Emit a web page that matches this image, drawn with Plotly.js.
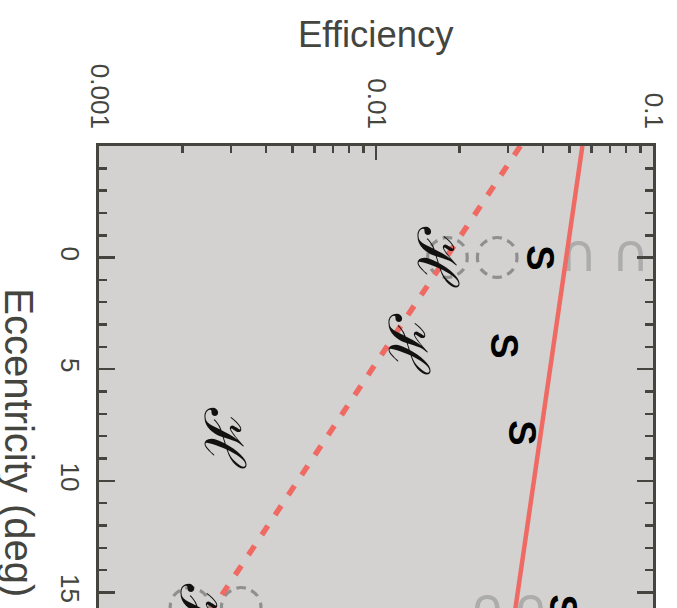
<!DOCTYPE html>
<html><head><meta charset="utf-8">
<script src="https://cdn.plot.ly/plotly-3.0.1.min.js"></script>
<style>html,body{margin:0;padding:0;overflow:hidden;background:#fff;width:677px;height:608px}</style>
</head><body><div id="chart" style="width:677px;height:745px"></div>
<script>
// ---- data ----
const fitEcc = [-5, 20];
const solidEff = [0.0556, 0.0284];
const dashedEff = [0.0332, 0.00152];
const scriptEcc = [0, 3.9, 8.1, 16];
const scriptEff = [0.01665, 0.01308, 0.00285, 0.00232];
const sEcc = [0, 3.95, 7.85, 15.65];
const sEff = [0.0392, 0.0291, 0.0338, 0.0475];
const ringEcc = [0, 0, 15.7, 15.7];
const ringEff = [0.0181, 0.0274, 0.00213, 0.00326];
const arcEcc = [0, 0, 15.9, 15.9];
const arcEff = [0.0538, 0.0829, 0.0252, 0.0361];
const effTicks = [0.001, 0.01, 0.1];
const effTickText = ['0.001', '0.01', '0.1'];
const effMinor = [0.002,0.003,0.004,0.005,0.006,0.007,0.008,0.009,0.02,0.03,0.04,0.05,0.06,0.07,0.08,0.09];
const eccTicks = [-5, 0, 5, 10, 15, 20];
const eccTickText = ['', '0', '5', '10', '15', '20'];
const eccMinor = [-4,-3,-2,-1,1,2,3,4,6,7,8,9,11,12,13,14,16,17,18,19];

const axisCol = '#45453f';
const red = '#f06a64';
const FONT = 'Liberation Sans, Arial, sans-serif';

const traces = [
  {x: ringEff, y: ringEcc, mode: 'text', text: ringEff.map(() => '\u25CC'),
   textfont: {family: 'DejaVu Sans', size: 56, color: '#8f8f8f'}, textposition: 'middle center', hoverinfo: 'skip'},
  {x: arcEff, y: arcEcc, mode: 'text', text: arcEff.map(() => '\u2229'),
   textfont: {family: 'DejaVu Sans', size: 52, color: '#acacac'}, textposition: 'middle center', hoverinfo: 'skip'},
  {x: solidEff, y: fitEcc, mode: 'lines', line: {color: red, width: 4.5}, hoverinfo: 'skip'},
  {x: dashedEff, y: fitEcc, mode: 'lines', line: {color: red, width: 5.5, dash: '11px,13px'}, hoverinfo: 'skip'}
];

const annotations = [];
scriptEff.forEach((v, i) => annotations.push({
  x: Math.log10(v), y: scriptEcc[i], xref: 'x', yref: 'y', text: '\u210B', showarrow: false,
  textangle: 90, font: {family: 'DejaVu Serif', size: 56, color: '#111'}, xanchor: 'center', yanchor: 'middle'
}));
sEff.forEach((v, i) => annotations.push({
  x: Math.log10(v), y: sEcc[i], xref: 'x', yref: 'y', text: '<b>S</b>', showarrow: false,
  textangle: 90, font: {family: FONT, size: 38, color: '#000'}, xanchor: 'center', yanchor: 'middle'
}));
annotations.push({
  x: 0.5, y: 1, xref: 'paper', yref: 'paper', xanchor: 'center', yanchor: 'middle', yshift: 112,
  text: 'Efficiency', showarrow: false, font: {family: FONT, size: 36.5, color: axisCol}
});
annotations.push({
  x: 0, y: 0.469, xref: 'paper', yref: 'paper', xanchor: 'center', yanchor: 'middle', xshift: -80,
  text: 'Eccentricity (deg)', textangle: 90, showarrow: false, font: {family: FONT, size: 40, color: axisCol}
});

const layout = {
  width: 677, height: 745,
  margin: {l: 99, r: 24, t: 146, b: 41},
  paper_bgcolor: '#ffffff', plot_bgcolor: '#d3d2d0',
  showlegend: false,
  font: {family: FONT, color: axisCol},
  xaxis: {
    type: 'log', side: 'top', range: [-3, -1], autorange: false,
    tickmode: 'array', tickvals: effTicks, ticktext: effTickText, tickangle: 90,
    ticks: 'inside', ticklen: 14, tickwidth: 2.5, tickcolor: axisCol,
    showline: true, linecolor: axisCol, linewidth: 3, mirror: 'allticks',
    showgrid: false, zeroline: false, ticklabelstandoff: 5,
    tickfont: {family: FONT, size: 26, color: axisCol},
    minor: {tickmode: 'array', tickvals: effMinor, ticks: 'inside', ticklen: 7, tickwidth: 2.5, tickcolor: axisCol, showgrid: false}
  },
  yaxis: {
    range: [20, -5], autorange: false,
    tickmode: 'array', tickvals: eccTicks, ticktext: eccTickText, tickangle: 90,
    ticks: 'inside', ticklen: 16, tickwidth: 2.5, tickcolor: axisCol,
    showline: true, linecolor: axisCol, linewidth: 3, mirror: 'allticks',
    showgrid: false, zeroline: false, ticklabelstandoff: 4,
    tickfont: {family: FONT, size: 26, color: axisCol},
    minor: {tickmode: 'array', tickvals: eccMinor, ticks: 'inside', ticklen: 8, tickwidth: 2.5, tickcolor: axisCol, showgrid: false}
  },
  annotations: annotations
};

Plotly.newPlot('chart', traces, layout, {staticPlot: true, displayModeBar: false});
</script></body></html>
